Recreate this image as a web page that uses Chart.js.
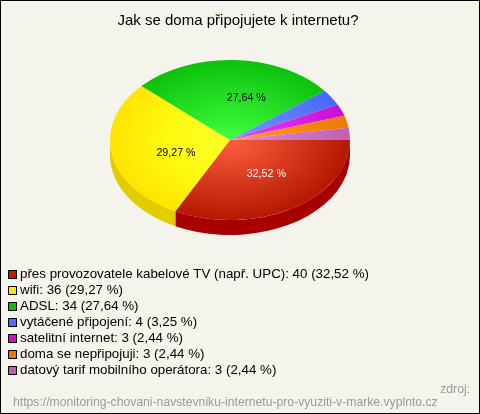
<!DOCTYPE html>
<html><head><meta charset="utf-8">
<style>html,body{margin:0;padding:0;background:#f5f4ec}#w{position:absolute;left:0;top:0;width:480px;height:414px}</style>
<script src="https://cdn.jsdelivr.net/npm/chart.js@4"></script></head>
<body><div id="w"><canvas id="c" width="480" height="414"></canvas></div>
<script>
const titleText = 'Jak se doma připojujete k internetu?';
const categories = ['přes provozovatele kabelové TV (např. UPC)','wifi','ADSL','vytáčené připojení','satelitní internet','doma se nepřipojuji','datový tarif mobilního operátora'];
const values = [40,36,34,4,3,3,3];
const percents = ['32,52','29,27','27,64','3,25','2,44','2,44','2,44'];
const innerColors = ['#ff5f40','#ffff28','#40ff40','#7a98ff','#f040ff','#ffa020','#e088e8'];
const middleColors = ['#da3b20','#fffa12','#26e026','#5f80ff','#dc28e8','#f68c10','#d074cc'];
const outerColors = ['#b41800','#ffe400','#0cc20c','#4468ff','#c810d0','#ee7800','#c060b0'];
const sideColors  = ['#a80000','#e3cc00','#089008','#3050c0','#9a0aa0','#b85c00','#905088'];
const legendColors = ['#c01c00','#ffe600','#10c010','#4a70ff','#cc10d0','#ee7800','#c060b0'];
const labelColors = ['#ffffff','#000000','#000000'];
const labelOffsets = [[5,0],[5,6],[14,-2]];
const sourceLabel = 'zdroj:';
const sourceUrl = 'https://monitoring-chovani-navstevniku-internetu-pro-vyuziti-v-marke.vyplnto.cz';
const FONT = '"Liberation Sans", Arial, sans-serif';
const PIE = {cx:230, cy:140, r:120, squash:2/3, depth:15};
const LEGEND = {x:9, y:274, step:16, box:7, textX:20, size:13.33};

const frame = {id:'frame',
  beforeDraw(ch){const c=ch.ctx;c.save();c.fillStyle='#f5f4ec';c.fillRect(0,0,480,414);
    c.strokeStyle='#000';c.lineWidth=1;c.strokeRect(.5,.5,479,413);c.restore();},
  afterDraw(ch){const c=ch.ctx;c.save();
    c.textBaseline='middle';c.textAlign='left';c.font=LEGEND.size+'px '+FONT;
    categories.forEach((t,i)=>{
      const y=LEGEND.y+i*LEGEND.step;
      c.fillStyle=legendColors[i];c.strokeStyle='#000';c.lineWidth=1;
      c.fillRect(LEGEND.x,Math.round(y-LEGEND.box/2)-.5+.5,LEGEND.box,LEGEND.box);
      c.strokeRect(LEGEND.x-.5,Math.round(y-LEGEND.box/2)-.5,LEGEND.box+1,LEGEND.box+1);
      c.fillStyle='#000';
      c.fillText(`${t}: ${values[i]} (${percents[i]} %)`,LEGEND.textX,y);
    });
    c.font='12.2px '+FONT;c.fillStyle='#999';c.textBaseline='alphabetic';
    c.textAlign='right';c.fillText(sourceLabel,470,393);
    c.textAlign='left';c.fillText(sourceUrl,13,406);c.restore();}
};
const pie3d = {id:'pie3d',
  beforeDatasetsDraw(ch){
    const c=ch.ctx, arcs=ch.getDatasetMeta(0).data, {cx,cy,r,squash,depth}=PIE;
    c.save();
    arcs.forEach((a,i)=>{
      const p=a.getProps(['startAngle','endAngle'],true);
      const s=Math.max(p.startAngle,0), e=Math.min(p.endAngle,Math.PI);
      if(e>s){
        c.beginPath();
        c.ellipse(cx,cy,r,r*squash,0,s,e);
        c.ellipse(cx,cy+depth,r,r*squash,0,e,s,true);
        c.closePath();c.fillStyle=sideColors[i];c.fill();
      }
    });
    c.restore();
    const a0=arcs[0];
    c.save();
    c.translate(cx,cy);c.scale(1,squash);c.translate(-a0.x,-a0.y);
  },
  afterDatasetsDraw(ch){
    const c=ch.ctx, arcs=ch.getDatasetMeta(0).data, {cx,cy,r,squash}=PIE;
    c.restore();
    c.save();c.font='10.67px '+FONT;c.textAlign='center';c.textBaseline='middle';
    labelOffsets.forEach((o,i)=>{
      const p=arcs[i].getProps(['startAngle','endAngle'],true), m=(p.startAngle+p.endAngle)/2;
      c.fillStyle=labelColors[i];
      c.fillText(percents[i]+' %',cx+Math.cos(m)*r/2+o[0],cy+Math.sin(m)*r/2*squash+o[1]);
    });
    c.restore();
  }
};
function sliceFill(ctx){
  const i=ctx.dataIndex, a=ctx.chart.chartArea; if(!a) return outerColors[i];
  const x=(a.left+a.right)/2,y=(a.top+a.bottom)/2;
  const g=ctx.chart.ctx.createRadialGradient(x,y,0,x,y,PIE.r);
  g.addColorStop(0,innerColors[i]);g.addColorStop(.5,middleColors[i]);g.addColorStop(1,outerColors[i]);return g;
}

new Chart(document.getElementById('c'),{
  type:'pie',
  data:{labels:categories,datasets:[{data:values,borderWidth:0,backgroundColor:sliceFill,radius:PIE.r}]},
  options:{responsive:false,animation:false,rotation:90,events:[],
    layout:{padding:{left:0,right:4,top:0,bottom:150}},
    plugins:{
      tooltip:{enabled:false},
      legend:{display:false},
      title:{display:true,text:titleText,color:'#000',font:{family:FONT,size:15,weight:'normal'},padding:{top:12,bottom:10}}
    }},
  plugins:[frame,pie3d]
});
</script></body></html>
